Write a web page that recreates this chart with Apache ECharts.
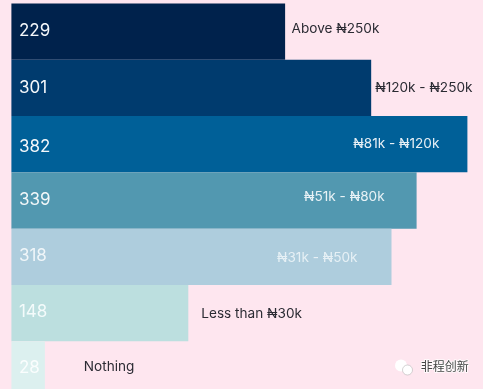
<!DOCTYPE html>
<html>
<head>
<meta charset="utf-8">
<style>html,body{margin:0;padding:0;background:#fee6ef}#c{width:483px;height:389px}</style>
<script src="https://cdn.jsdelivr.net/npm/echarts@6/dist/echarts.min.js"></script>
</head>
<body>
<div id="c"></div>
<script>
const categories = ['Above ₦250k','₦120k - ₦250k','₦81k - ₦120k','₦51k - ₦80k','₦31k - ₦50k','Less than ₦30k','Nothing'];
const values = [229,301,382,339,318,148,28];
const barColors = ['#00224c','#003b6e','#006098','#5298b0','#aecddd','#bcdfdf','#dcf0ef'];
const valueColors = ['#f4f8fb','#f4f8fb','#f4f8fb','#f2f7f9','#f0f6f9','#f4fbfb','#fafdfd'];
const nameColors = ['#2b2b33','#2b2b33','#e6eff5','#e8f2f6','#e6f0f5','#2b2b33','#2b2b33'];
const namePositions = ['right','right','insideRight','insideRight','insideRight','right','right'];
const nameOffsets = [[6.5,-3],[4,0],[-28,0],[-32,-4],[-34,1],[13,1],[39,-2]];
const valueOffsets = [[0,-1],[0,0],[0,3],[0,-1],[0,-1],[0,-1],[0,-1]];

const chart = echarts.init(document.getElementById('c'), null, {renderer:'canvas'});
const font = 'Inter, Roboto, sans-serif';
chart.setOption({
  backgroundColor:'#fee6ef',
  animation:false,
  grid:{left:11.4, top:3.5, width:456, height:394, containLabel:false, outerBoundsMode:'none'},
  xAxis:{type:'value', min:0, max:381.5, show:false},
  yAxis:{type:'category', inverse:true, data:categories, show:false},
  series:[
    {
      type:'bar', barWidth:'100%', barGap:'-100%', silent:true,
      data:values.map((v,i)=>({
        value:v,
        itemStyle:{color:barColors[i]},
        label:{show:true, position:'insideLeft', distance:7.5, offset:valueOffsets[i],
          formatter:'{c}', color:valueColors[i], fontFamily:font, fontSize:17}
      }))
    },
    {
      type:'bar', barWidth:'100%', barGap:'-100%', silent:true,
      itemStyle:{color:'rgba(0,0,0,0)'},
      data:values.map((v,i)=>({
        value:v,
        label:{show:true, position:namePositions[i], distance:0, offset:nameOffsets[i],
          formatter:categories[i], color:nameColors[i], fontFamily:font, fontSize:13.6}
      }))
    }
  ],
  graphic:[
    {type:'circle', shape:{cx:401,cy:365.5,r:6}, style:{fill:'#fff'}},
    {type:'circle', shape:{cx:407.5,cy:370,r:5}, style:{fill:'#fff',stroke:'#a8a8a8',lineWidth:0.5}},
    {type:'text', left:420, top:360, style:{text:'非程创新', fill:'#444', font:'12px "Noto Sans CJK SC"',
      stroke:'#fff', lineWidth:1.5}}
  ]
});
</script>
</body>
</html>
